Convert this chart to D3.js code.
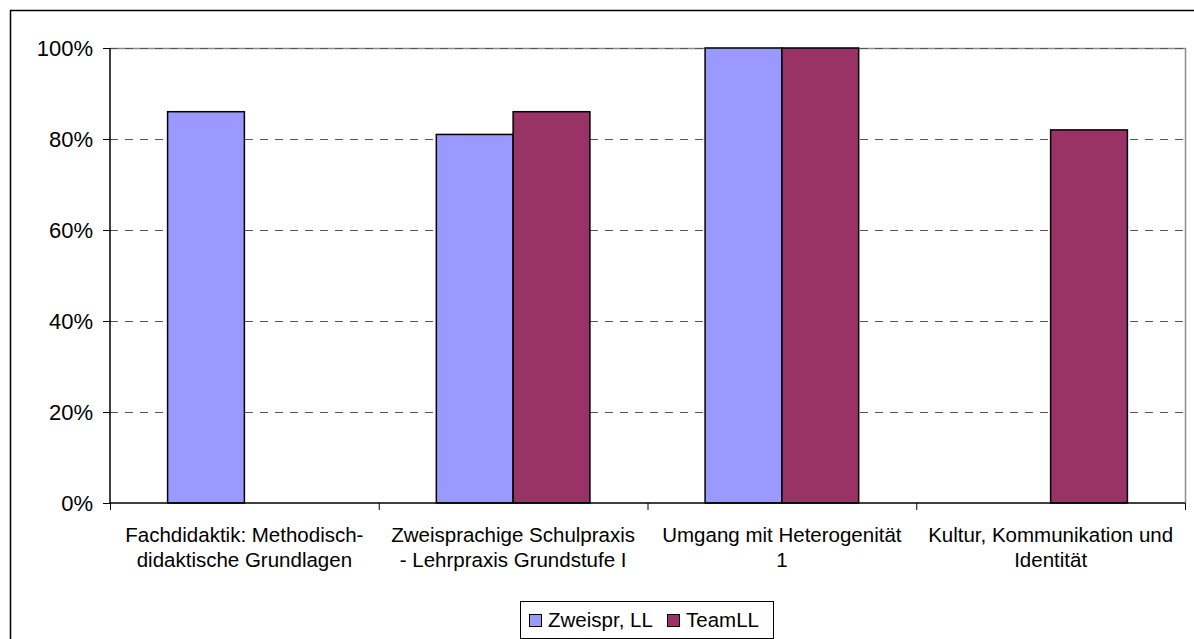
<!DOCTYPE html>
<html>
<head>
<meta charset="utf-8">
<script src="https://cdn.jsdelivr.net/npm/d3@7"></script>
<style>
  html, body { margin: 0; padding: 0; background: #fff; }
  svg { display: block; font-family: "Liberation Sans", Arial, sans-serif; }
</style>
</head>
<body>
<svg id="chart" width="1194" height="639"></svg>
<script>
const categories = [
  ["Fachdidaktik: Methodisch-", "didaktische Grundlagen"],
  ["Zweisprachige Schulpraxis", "- Lehrpraxis Grundstufe I"],
  ["Umgang mit Heterogenität", "1"],
  ["Kultur, Kommunikation und", "Identität"]
];
const seriesNames = ["Zweispr, LL", "TeamLL"];
const zweisprLL = [0.86, 0.81, 1.00, null];
const teamLL = [null, 0.86, 1.00, 0.82];
const seriesColors = ["#9999FF", "#993366"];
const yTicks = [0, 0.2, 0.4, 0.6, 0.8, 1.0];

const series = [zweisprLL, teamLL];
const svg = d3.select("#chart");

// outer chart frame
svg.append("rect").attr("x", 10.5).attr("y", 10.5).attr("width", 1300).attr("height", 800)
  .attr("fill", "none").attr("stroke", "#000").attr("stroke-width", 1.5);

const plot = { left: 110, right: 1185, top: 48, bottom: 503 };

const x0 = d3.scaleBand().domain(d3.range(categories.length))
  .range([plot.left, plot.right]).paddingInner(0).paddingOuter(0);
const bw = x0.bandwidth() / 3.5; // gap width 150%
const x1 = d3.scaleBand().domain(d3.range(series.length))
  .range([x0.bandwidth() / 2 - bw, x0.bandwidth() / 2 + bw]);
const y = d3.scaleLinear().domain([0, 1]).range([plot.bottom, plot.top]);

// plot area border (top & right grey)
svg.append("path")
  .attr("d", `M${plot.left},${plot.top + 0.5}H${plot.right + 0.5}V${plot.bottom}`)
  .attr("fill", "none").attr("stroke", "#8c8c8c").attr("stroke-width", 1.5);

// gridlines
svg.append("g").selectAll("line").data(yTicks.filter(t => t > 0)).join("line")
  .attr("x1", plot.left).attr("x2", plot.right)
  .attr("y1", d => Math.round(y(d)) + 0.5).attr("y2", d => Math.round(y(d)) + 0.5)
  .attr("stroke", "#555").attr("stroke-width", 1).attr("stroke-dasharray", "8,7");

// bars
const groups = svg.append("g").selectAll("g").data(categories).join("g")
  .attr("transform", (d, i) => `translate(${x0(i)},0)`);
groups.selectAll("rect")
  .data((d, i) => series.map((s, k) => ({ k, v: s[i] })).filter(o => o.v != null))
  .join("rect")
  .attr("x", d => x1(d.k)).attr("width", x1.bandwidth())
  .attr("y", d => y(d.v)).attr("height", d => y(0) - y(d.v))
  .attr("fill", d => seriesColors[d.k]).attr("stroke", "#000").attr("stroke-width", 1.5);

// y axis
const yAxis = d3.axisLeft(y).tickValues(yTicks).tickFormat(d3.format(".0%"))
  .tickSize(7).tickPadding(10);
const gy = svg.append("g").attr("transform", `translate(${plot.left},0)`).call(yAxis);
gy.select(".domain").attr("stroke", "#000").attr("stroke-width", 1.5).attr("d", `M0,${plot.top}V${plot.bottom}`);
gy.selectAll(".tick line").attr("stroke", "#000");
gy.selectAll(".tick text").attr("font-size", 22).attr("fill", "#000")
  .attr("font-family", "Liberation Sans, Arial, sans-serif");

// x axis (category boundary ticks)
const xb = d3.scaleLinear().domain([0, categories.length]).range([plot.left, plot.right]);
const xAxis = d3.axisBottom(xb).tickValues(d3.range(categories.length + 1)).tickSize(7).tickFormat("");
const gx = svg.append("g").attr("transform", `translate(0,${plot.bottom})`).call(xAxis);
gx.select(".domain").attr("stroke", "#000").attr("stroke-width", 1.5).attr("d", `M${plot.left},0H${plot.right}`);
gx.selectAll(".tick line").attr("stroke", "#000");

// category labels
const labels = svg.append("g").selectAll("text").data(categories).join("text")
  .attr("x", (d, i) => x0(i) + x0.bandwidth() / 2)
  .attr("y", 541.5).attr("text-anchor", "middle").attr("font-size", 20.5).attr("fill", "#000");
labels.selectAll("tspan").data(d => d).join("tspan")
  .attr("x", function () { return d3.select(this.parentNode).attr("x"); })
  .attr("dy", (d, i) => i === 0 ? 0 : 25).text(d => d);

// legend
const lg = svg.append("g");
lg.append("rect").attr("x", 520.5).attr("y", 601.5).attr("width", 253).attr("height", 37)
  .attr("fill", "#fff").attr("stroke", "#000").attr("stroke-width", 1);
const items = [{ x: 529, tx: 548 }, { x: 667, tx: 686 }];
items.forEach((it, k) => {
  lg.append("rect").attr("x", it.x + 0.5).attr("y", 614.5).attr("width", 12).attr("height", 12)
    .attr("fill", seriesColors[k]).attr("stroke", "#000").attr("stroke-width", 1);
  lg.append("text").attr("x", it.tx).attr("y", 627).attr("font-size", 20.5).attr("fill", "#000")
    .text(seriesNames[k]);
});
</script>
</body>
</html>
